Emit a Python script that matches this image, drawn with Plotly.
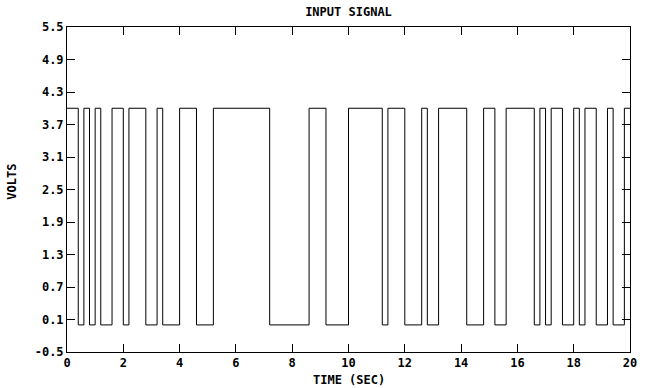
import plotly.graph_objects as go

# Switching instants of the binary input (seconds) and the level held after each one (volts)
switch_times = [0.0, 0.4, 0.6, 0.8, 1.0, 1.2, 1.6, 2.0, 2.2, 2.8, 3.2, 3.4, 4.0, 4.6,
                5.2, 7.2, 8.6, 9.2, 10.0, 11.2, 11.4, 12.0, 12.6, 12.8, 13.2, 14.2,
                14.8, 15.2, 15.6, 16.6, 16.8, 17.0, 17.2, 17.6, 18.0, 18.2, 18.4,
                18.8, 19.2, 19.4, 19.8]
levels = [4.0, 0.0, 4.0, 0.0, 4.0, 0.0, 4.0, 0.0, 4.0, 0.0, 4.0, 0.0, 4.0, 0.0,
          4.0, 0.0, 4.0, 0.0, 4.0, 0.0, 4.0, 0.0, 4.0, 0.0, 4.0, 0.0,
          4.0, 0.0, 4.0, 0.0, 4.0, 0.0, 4.0, 0.0, 4.0, 0.0, 4.0,
          0.0, 4.0, 0.0, 4.0]
end_time = 20.0

x_ticks = [0, 2, 4, 6, 8, 10, 12, 14, 16, 18, 20]
y_ticks = [-0.5, 0.1, 0.7, 1.3, 1.9, 2.5, 3.1, 3.7, 4.3, 4.9, 5.5]
y_tick_text = ["-0.5", "0.1", "0.7", "1.3", "1.9", "2.5", "3.1", "3.7", "4.3", "4.9", "5.5"]

font = dict(family="DejaVu Sans Mono", size=12, color="black", weight="bold")

fig = go.Figure()
fig.add_trace(go.Scatter(
    x=switch_times + [end_time],
    y=levels + [levels[-1]],
    mode="lines",
    line=dict(color="black", width=1, shape="hv"),
    showlegend=False,
    hoverinfo="skip",
))

axis_common = dict(
    showgrid=False, zeroline=False,
    showline=True, linecolor="black", linewidth=1, mirror="ticks",
    ticks="inside", ticklen=8, tickwidth=1, tickcolor="black",
    tickfont=font,
)

fig.update_xaxes(range=[0, 20], tickmode="array", tickvals=x_ticks,
                 ticktext=[str(v) for v in x_ticks], **axis_common)
fig.update_yaxes(range=[-0.5, 5.5], tickmode="array", tickvals=y_ticks,
                 ticktext=y_tick_text, **axis_common)

fig.update_layout(
    width=645, height=388,
    margin=dict(l=67, r=8, t=27, b=36),
    paper_bgcolor="white", plot_bgcolor="white",
    font=font,
    title=dict(text="INPUT SIGNAL", x=0.5, xref="paper", xanchor="center",
               y=1 - 12 / 388, yref="container", yanchor="middle", font=font),
    annotations=[
        dict(text="TIME (SEC)", xref="paper", yref="paper", x=0.5, y=-0.086,
             xanchor="center", yanchor="middle", showarrow=False, font=font),
        dict(text="VOLTS", xref="paper", yref="paper", x=-0.097, y=0.525,
             xanchor="center", yanchor="middle", textangle=-90,
             showarrow=False, font=font),
    ],
)

fig.write_html("out.html")
